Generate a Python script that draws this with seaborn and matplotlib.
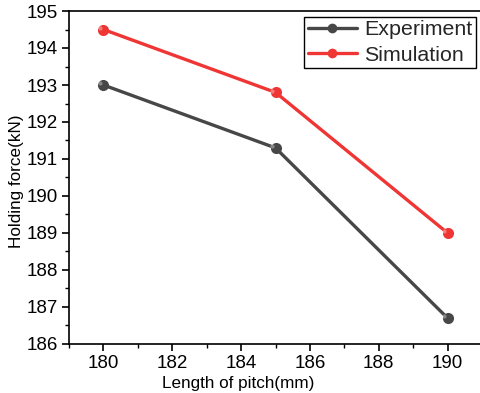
import matplotlib.pyplot as plt
import numpy as np
import pandas as pd
import seaborn as sns
from matplotlib.ticker import MultipleLocator

pitch = [180, 185, 190]
experiment = [193.0, 191.3, 186.7]
simulation = [194.5, 192.8, 189.0]
series_names = ["Experiment", "Simulation"]

data = pd.DataFrame({
    "pitch": pitch * 2,
    "force": experiment + simulation,
    "series": [series_names[0]] * 3 + [series_names[1]] * 3,
})

sns.set_theme(style="ticks")
plt.rcParams["font.family"] = ["Liberation Sans", "DejaVu Sans"]

fig = plt.figure(figsize=(4.8, 3.93), dpi=100)
ax = fig.add_axes([69 / 480, 49 / 393, 413 / 480, 333 / 393])

palette = {"Experiment": "#474747", "Simulation": "#f03535"}
sns.lineplot(data=data, x="pitch", y="force", hue="series", palette=palette,
             marker="o", markersize=8, linewidth=2.4, markeredgewidth=0,
             ax=ax)

# little highlight so the markers look a bit like the shaded spheres
for name, vals in zip(series_names, [experiment, simulation]):
    ax.plot(np.array(pitch) - 0.1, np.array(vals) + 0.05, "o", color="white",
            alpha=0.35, markersize=3, markeredgewidth=0, zorder=5)

ax.set_xlim(179, 191)
ax.set_ylim(186, 195)
ax.xaxis.set_major_locator(MultipleLocator(2))
ax.xaxis.set_minor_locator(MultipleLocator(1))
ax.yaxis.set_major_locator(MultipleLocator(1))
ax.yaxis.set_minor_locator(MultipleLocator(0.5))
ax.tick_params(which="major", direction="out", length=5, width=1.2,
               labelsize=13.5, color="black", labelcolor="black", pad=3)
ax.tick_params(which="minor", direction="out", length=3, width=1.0, color="black")
ax.tick_params(top=False, right=False)
for side in ["left", "bottom", "top", "right"]:
    ax.spines[side].set_visible(True)
    ax.spines[side].set_color("black")
    ax.spines[side].set_linewidth(1.2)

ax.set_xlabel("Length of pitch(mm)", fontsize=12.3, labelpad=1, color="black")
ax.xaxis.set_label_coords(0.409, -0.095)
ax.set_ylabel("Holding force(kN)", fontsize=12.3, color="black")
ax.yaxis.set_label_coords(-0.108, 0.49)

handles, labels = ax.get_legend_handles_labels()
leg = ax.legend(handles, labels, loc="upper right", bbox_to_anchor=(0.985, 0.982),
                fontsize=15.4, frameon=True, fancybox=False, framealpha=1,
                edgecolor="black", handlelength=2.3, handletextpad=0.35,
                borderpad=0.15, labelspacing=0.3, borderaxespad=0)
leg.get_frame().set_linewidth(1.0)
for line in leg.get_lines():
    line.set_markersize(7)

plt.savefig("out.png", dpi=100)
